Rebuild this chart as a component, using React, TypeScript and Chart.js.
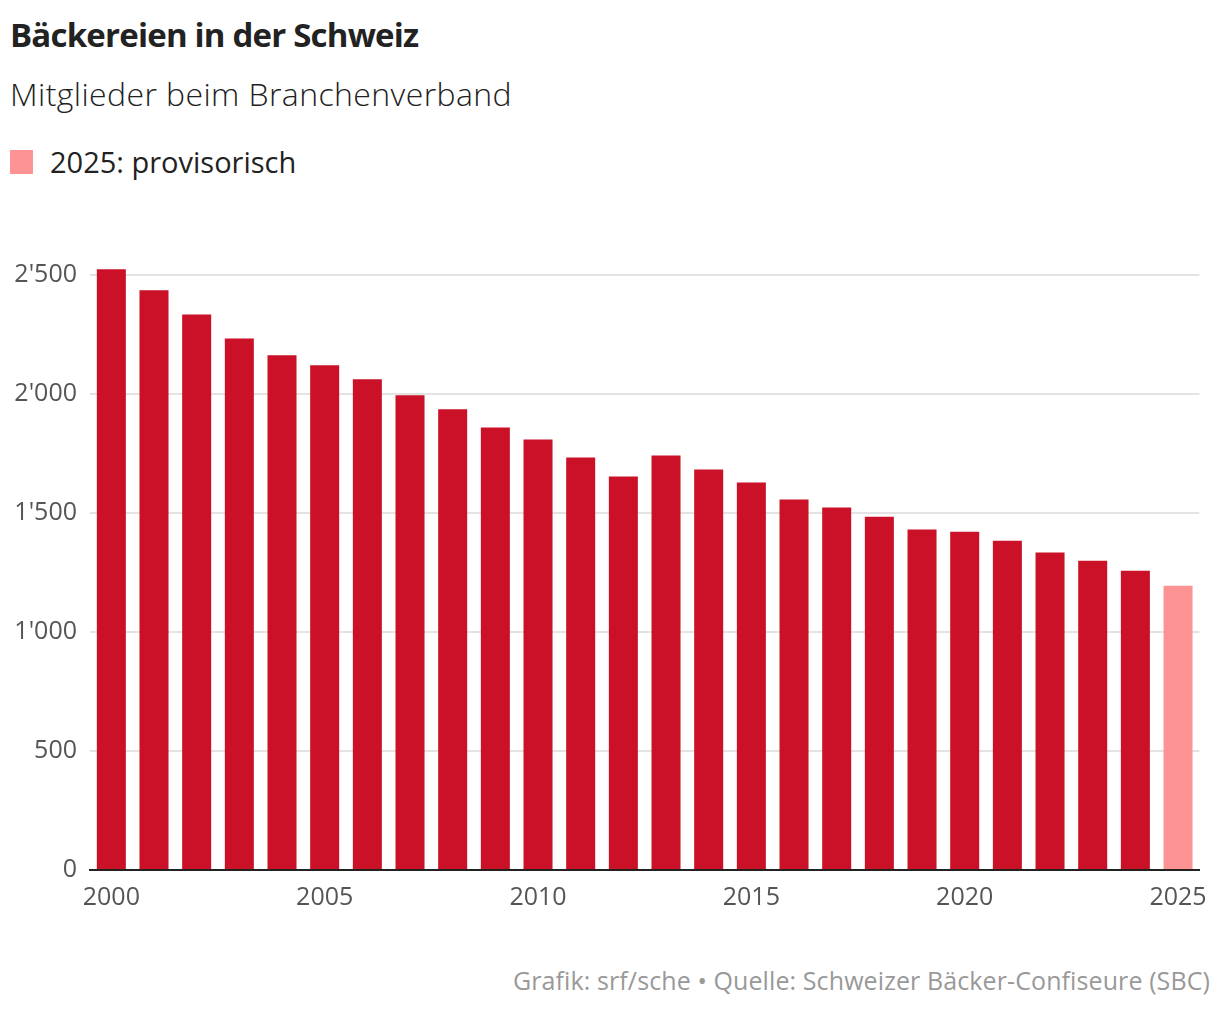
import React, { useEffect, useRef } from 'react';
import { Chart, registerables } from 'chart.js';

Chart.register(...registerables);

const years: string[] = [
  '2000', '2001', '2002', '2003', '2004', '2005', '2006', '2007', '2008', '2009',
  '2010', '2011', '2012', '2013', '2014', '2015', '2016', '2017', '2018', '2019',
  '2020', '2021', '2022', '2023', '2024', '2025',
];

const members: number[] = [
  2525, 2436, 2335, 2234, 2163, 2121, 2062, 1995, 1936, 1860,
  1809, 1734, 1654, 1742, 1683, 1629, 1557, 1523, 1485, 1431,
  1422, 1384, 1334, 1300, 1258, 1195,
];

const provisionalYears: string[] = ['2025'];
const yTicks: number[] = [0, 500, 1000, 1500, 2000, 2500];

const RED = '#ca1127';
const PINK = '#fe9393';
const FONT = '"Open Sans", sans-serif';

const fmt = (v: number) => {
  if (v < 1000) return String(v);
  const th = Math.floor(v / 1000);
  const rest = String(v % 1000).padStart(3, '0');
  return `${th}'${rest}`;
};

const BarChart: React.FC = () => {
  const canvasRef = useRef<HTMLCanvasElement | null>(null);

  useEffect(() => {
    if (!canvasRef.current) return;
    const ctx = canvasRef.current.getContext('2d');
    if (!ctx) return;

    const chart = new Chart(ctx, {
      type: 'bar',
      data: {
        labels: years,
        datasets: [
          {
            label: 'Mitglieder',
            data: members,
            backgroundColor: years.map((y) => (provisionalYears.includes(y) ? PINK : RED)),
            categoryPercentage: 1,
            barPercentage: 0.68,
          },
        ],
      },
      options: {
        animation: false,
        responsive: false,
        maintainAspectRatio: false,
        layout: { padding: { top: 7, right: 19, left: 0, bottom: 0 } },
        plugins: { legend: { display: false }, tooltip: { enabled: false } },
        scales: {
          x: {
            grid: { display: false, drawTicks: false },
            border: { display: true, color: '#222', width: 2 },
            ticks: {
              autoSkip: false,
              maxRotation: 0,
              padding: 13,
              color: '#555',
              font: { family: FONT, size: 25 },
              callback: (_v, i) => (Number(years[i]) % 5 === 0 ? years[i] : ''),
            },
          },
          y: {
            min: 0,
            max: 2530,
            afterBuildTicks: (axis: any) => {
              axis.ticks = yTicks.map((v) => ({ value: v }));
            },
            afterFit: (axis: any) => {
              axis.width = 90;
            },
            grid: { color: '#e3e3e3', lineWidth: 2, drawTicks: false },
            border: { display: false },
            ticks: {
              padding: 13,
              color: '#555',
              font: { family: FONT, size: 25 },
              callback: (v) => fmt(Number(v)),
            },
          },
        },
      },
    });

    return () => {
      chart.destroy();
    };
  }, []);

  return <canvas ref={canvasRef} width={1220} height={686} style={{ position: 'absolute', left: 0, top: 240, width: 1220, height: 686 }} />;
};

const App: React.FC = () => {
  return (
    <div style={{ position: 'absolute', left: 0, top: 0, width: 1220, height: 1014, background: '#fff', fontFamily: FONT, color: '#222' }}>
      <div style={{ position: 'absolute', left: 10, top: 13, fontSize: 33, fontWeight: 700, letterSpacing: -0.8, lineHeight: '44px', whiteSpace: 'nowrap' }}>
        Bäckereien in der Schweiz
      </div>
      <div style={{ position: 'absolute', left: 10, top: 72, fontSize: 32, fontWeight: 300, letterSpacing: 0.4, lineHeight: '44px', whiteSpace: 'nowrap' }}>
        Mitglieder beim Branchenverband
      </div>
      <div style={{ position: 'absolute', left: 10, top: 150, width: 23, height: 24, background: PINK }} />
      <div style={{ position: 'absolute', left: 50, top: 140, fontSize: 29, fontWeight: 400, letterSpacing: 0, lineHeight: '44px', whiteSpace: 'nowrap' }}>
        2025: provisorisch
      </div>
      <BarChart />
      <div style={{ position: 'absolute', right: 10, top: 962, fontSize: 25, color: '#999', letterSpacing: 0.1, lineHeight: '36px', whiteSpace: 'nowrap' }}>
        Grafik: srf/sche • Quelle: Schweizer Bäcker-Confiseure (SBC)
      </div>
    </div>
  );
};

export default App;
